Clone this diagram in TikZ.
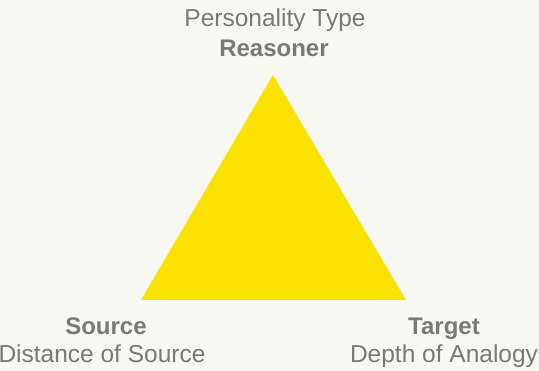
\documentclass[tikz,border=0pt]{standalone}
\usepackage{fontspec}
\setmainfont{Liberation Sans}
\usepackage{xcolor}
\usetikzlibrary{positioning,calc}
\definecolor{bgpaper}{HTML}{F8F8F3}
\definecolor{triyellow}{HTML}{FAE100}
\definecolor{labelgray}{HTML}{7A7A75}
\tikzset{
    lbl/.style={anchor=base, inner sep=0pt, text=labelgray, font=\fontsize{24.5}{29}\selectfont},
    lblbold/.style={lbl, font=\fontsize{24}{29}\selectfont\bfseries}
}
\begin{document}
\begin{tikzpicture}[x=1pt, y=1pt]
    % Canvas
    \fill[bgpaper] (0,0) rectangle (539,371);
    \useasboundingbox (0,0) rectangle (539,371);
    \clip (0,0) rectangle (539,371);

    % Triangle corners
    \coordinate (apex) at (273,296);
    \coordinate (left) at (141,71);
    \coordinate (right) at (406,71);
    \fill[triyellow] (apex) -- (left) -- (right) -- cycle;

    % Labels
    \node[lbl] (pertype) at (275,344) {Personality Type};
    \node[lblbold] (reasoner) at (274,314) {Reasoner};
    \node[lblbold] (source) at (106,36) {Source};
    \node[lbl] (distance) at (102,8) {Distance of Source};
    \node[lblbold] (target) at (444,36) {Target};
    \node[lbl] (depth) at (444,8) {Depth of Analogy};
\end{tikzpicture}
\end{document}
